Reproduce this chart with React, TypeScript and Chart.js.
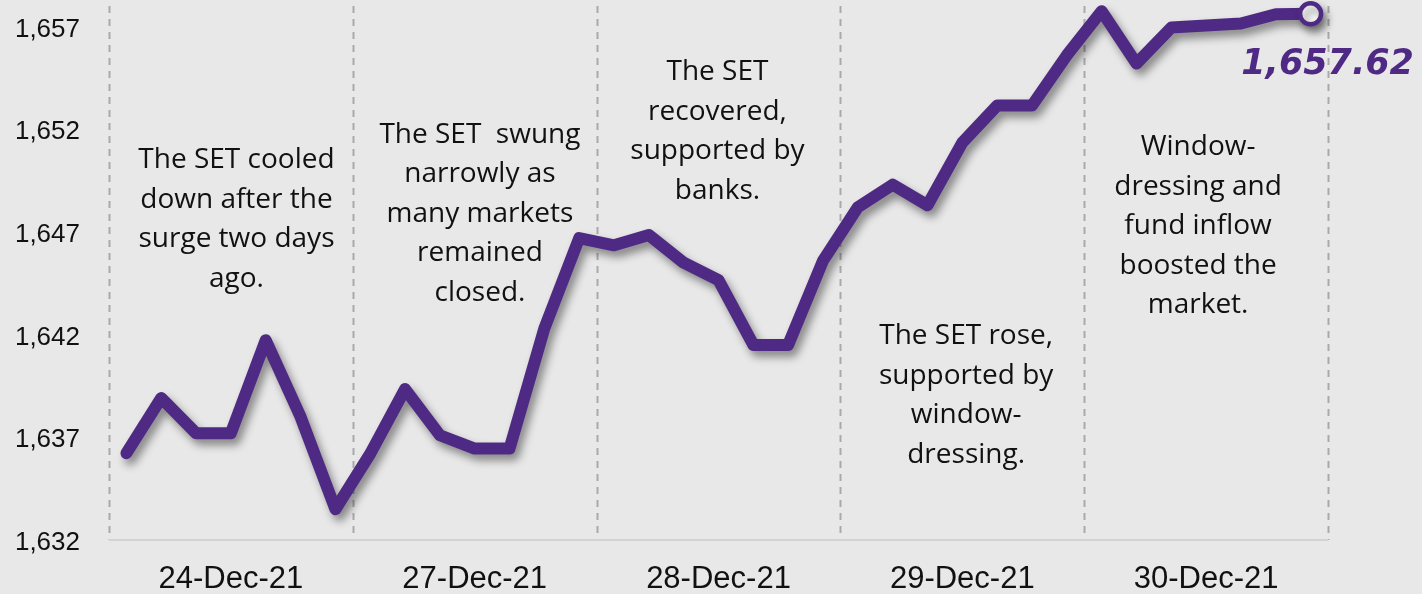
import React, { useEffect, useRef } from "react";
import { Chart, registerables } from "chart.js";

Chart.register(...registerables);

// ---- data ----
const days = ["24-Dec-21", "27-Dec-21", "28-Dec-21", "29-Dec-21", "30-Dec-21"];
const pointsPerDay = 7;
const setIndex = [
  1636.23, 1638.91, 1637.2, 1637.2, 1641.73, 1638.0, 1633.5,
  1636.2, 1639.35, 1637.1, 1636.45, 1636.45, 1642.3, 1646.7,
  1646.35, 1646.85, 1645.5, 1644.65, 1641.5, 1641.5, 1645.6,
  1648.2, 1649.3, 1648.3, 1651.35, 1653.15, 1653.15, 1655.6,
  1657.75, 1655.2, 1656.95, 1657.05, 1657.15, 1657.6, 1657.62,
];
const yTicks = [1632, 1637, 1642, 1647, 1652, 1657];
const notes: string[][] = [
  ["The SET cooled", "down after the", "surge two days", "ago."],
  ["The SET  swung", "narrowly as", "many markets", "remained", "closed."],
  ["The SET", "recovered,", "supported by", "banks."],
  ["The SET rose,", "supported by", "window-", "dressing."],
  ["Window-", "dressing and", "fund inflow", "boosted the", "market."],
];
// anchor of each note in data coordinates (x index, y value of first line)
const noteAnchorX = [3.16, 10.15, 16.97, 24.11, 30.77];
const noteAnchorY = [1650.5, 1651.72, 1654.78, 1641.93, 1651.13];

const labels = days.flatMap((d) => Array(pointsPerDay).fill(d));

const PURPLE = "#4f2a84";

const decorPlugin = {
  id: "decor",
  beforeDatasetsDraw(chart: any) {
    const { ctx, chartArea, scales } = chart;
    const x = scales.x;
    ctx.save();
    // dashed separators
    ctx.strokeStyle = "#a9a9a9";
    ctx.lineWidth = 2;
    ctx.setLineDash([7, 6]);
    for (let k = 0; k <= days.length; k++) {
      const px = Math.round(x.getPixelForValue(k * pointsPerDay - 0.5)) + 0.5;
      ctx.beginPath();
      ctx.moveTo(px, chartArea.top);
      ctx.lineTo(px, chartArea.bottom);
      ctx.stroke();
    }
    ctx.setLineDash([]);
    // bottom axis line
    ctx.strokeStyle = "#d3d3d3";
    ctx.lineWidth = 2;
    ctx.beginPath();
    ctx.moveTo(chartArea.left, chartArea.bottom);
    ctx.lineTo(chartArea.right, chartArea.bottom);
    ctx.stroke();
    // annotations
    ctx.fillStyle = "#111111";
    ctx.font = '28px "Open Sans", "Noto Sans", sans-serif';
    ctx.textAlign = "center";
    ctx.textBaseline = "middle";
    notes.forEach((lines, i) => {
      const cx = x.getPixelForValue(noteAnchorX[i]);
      const cy = scales.y.getPixelForValue(noteAnchorY[i]);
      lines.forEach((t, j) => ctx.fillText(t, cx, cy + j * 39.5));
    });
    ctx.restore();
    // shadow for the line
    ctx.save();
    ctx.shadowColor = "rgba(0,0,0,0.42)";
    ctx.shadowBlur = 8;
    ctx.shadowOffsetX = 4;
    ctx.shadowOffsetY = 6;
  },
  afterDatasetsDraw(chart: any) {
    const { ctx } = chart;
    ctx.restore();
    const meta = chart.getDatasetMeta(0);
    const last = meta.data[meta.data.length - 1];
    const v = setIndex[setIndex.length - 1];
    ctx.save();
    ctx.fillStyle = PURPLE;
    ctx.font = 'italic bold 35px "DejaVu Sans", sans-serif';
    ctx.textAlign = "center";
    ctx.textBaseline = "alphabetic";
    ctx.fillText(
      v.toLocaleString("en-US", { minimumFractionDigits: 2, maximumFractionDigits: 2 }),
      last.x + 17,
      last.y + 60
    );
    ctx.restore();
  },
};

export default function App() {
  const ref = useRef<HTMLCanvasElement>(null);
  useEffect(() => {
    if (!ref.current) return;
    const n = setIndex.length;
    const chart = new Chart(ref.current, {
      type: "line",
      data: {
        labels,
        datasets: [
          {
            data: setIndex,
            borderColor: PURPLE,
            borderWidth: 12,
            borderCapStyle: "round",
            borderJoinStyle: "round",
            tension: 0,
            clip: false,
            pointRadius: setIndex.map((_, i) => (i === n - 1 ? 10.5 : 0)),
            pointBackgroundColor: "#ffffff",
            pointBorderColor: PURPLE,
            pointBorderWidth: 4.5,
            pointHoverRadius: 0,
          },
        ],
      },
      options: {
        animation: false,
        responsive: true,
        maintainAspectRatio: false,
        layout: { autoPadding: false, padding: { top: 6, right: 94, left: 0, bottom: 0 } },
        plugins: { legend: { display: false }, tooltip: { enabled: false } },
        scales: {
          x: {
            type: "category",
            offset: true,
            grid: { display: false, drawTicks: false },
            border: { display: false },
            afterBuildTicks: (axis: any) => {
              axis.ticks = days.map((_, i) => ({ value: i * pointsPerDay + 3 }));
            },
            afterFit: (s: any) => {
              s.height = 54;
            },
            ticks: {
              autoSkip: false,
              maxRotation: 0,
              minRotation: 0,
              padding: 21,
              color: "#111111",
              font: { family: '"Liberation Sans", Arial, sans-serif', size: 31 },
              callback: (value: any) => labels[value as number],
            },
          },
          y: {
            min: 1632,
            max: 1658,
            grid: { display: false, drawTicks: false },
            border: { display: false },
            afterBuildTicks: (axis: any) => {
              axis.ticks = yTicks.map((v) => ({ value: v }));
            },
            afterFit: (s: any) => {
              s.width = 109;
              s.paddingTop = 0;
              s.paddingBottom = 0;
            },
            ticks: {
              padding: 29,
              labelOffset: 3,
              color: "#111111",
              font: { family: '"Liberation Sans", Arial, sans-serif', size: 26 },
              callback: (value: any) => Number(value).toLocaleString("en-US"),
            },
          },
        },
      },
      plugins: [decorPlugin],
    });
    return () => chart.destroy();
  }, []);

  return (
    <div
      style={{
        position: "fixed",
        left: 0,
        top: 0,
        width: 1422,
        height: 594,
        background: "#e8e8e8",
      }}
    >
      <canvas ref={ref} />
    </div>
  );
}
